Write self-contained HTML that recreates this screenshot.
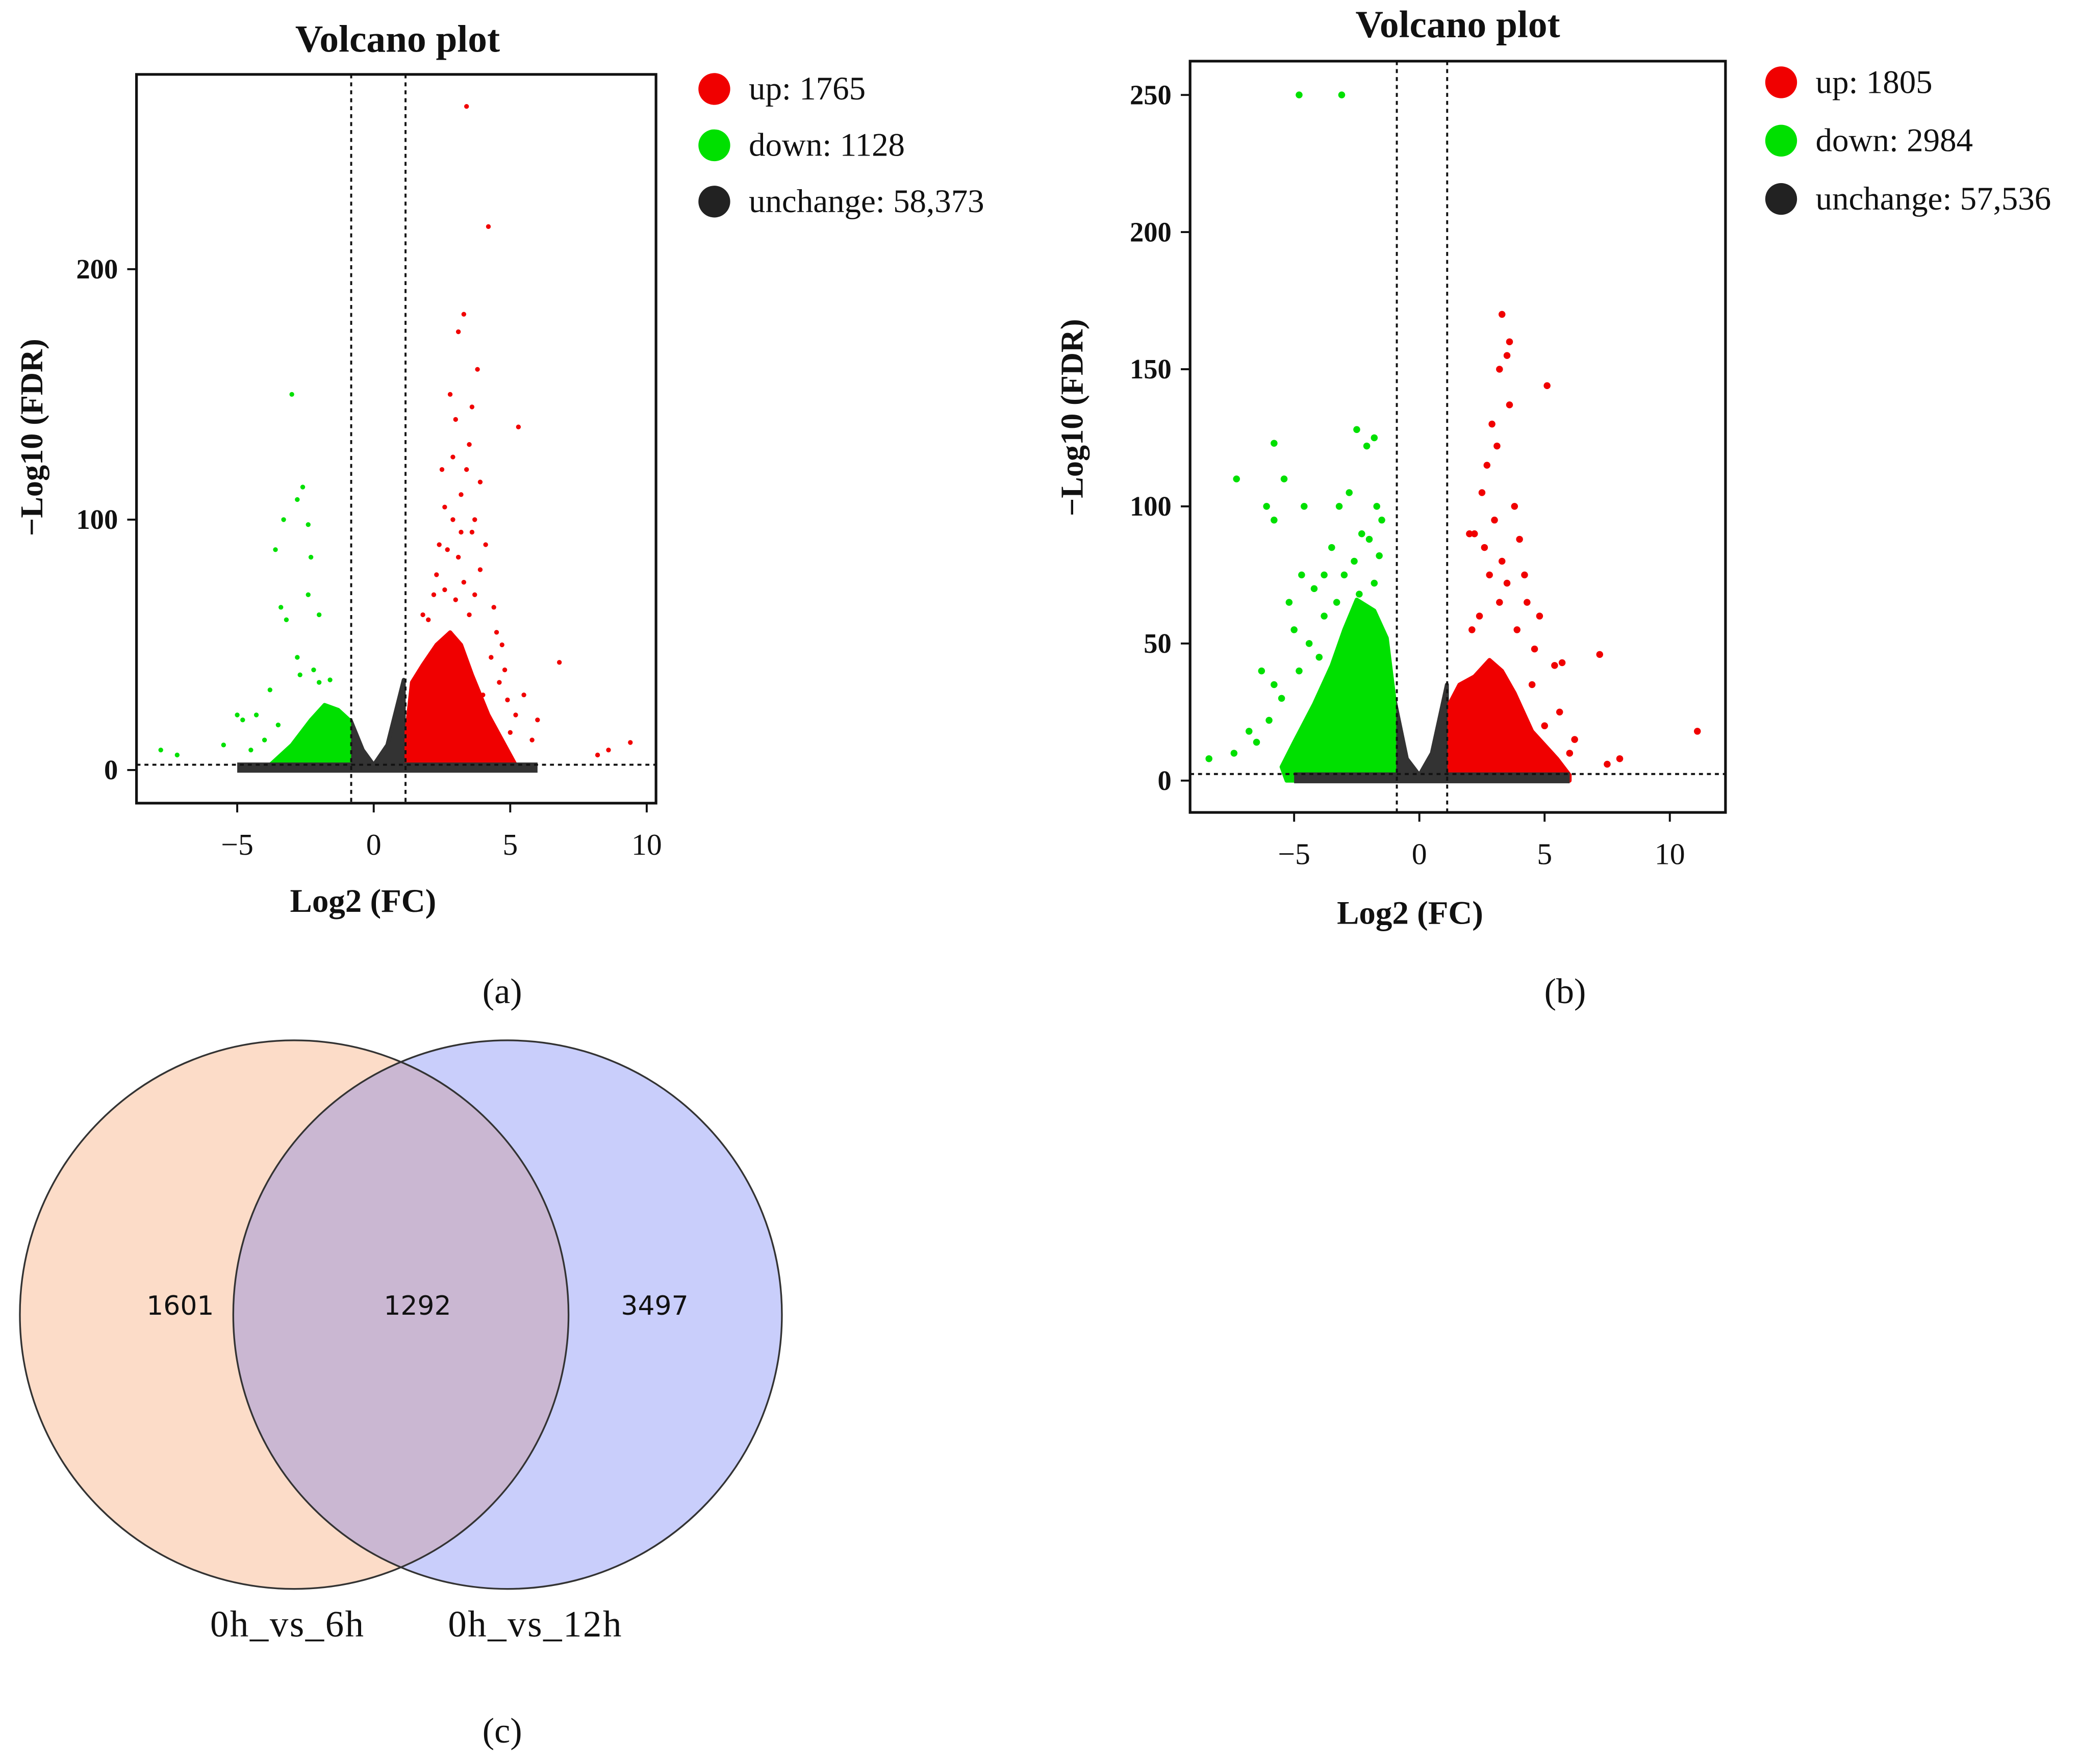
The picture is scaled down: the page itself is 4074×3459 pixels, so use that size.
<!DOCTYPE html>
<html><head><meta charset="utf-8"><style>
html,body{margin:0;padding:0;background:#fff;}
svg{display:block;}
text{font-family:"Liberation Serif",serif;fill:#111;}
</style></head><body>
<svg id="fig" width="4074" height="3459" viewBox="0 0 1568 1331" xmlns="http://www.w3.org/2000/svg">
<rect width="1568" height="1331" fill="#fff"/>
<g id="pa"></g>
<g id="pb"></g>
<text x="379" y="757" font-size="27" text-anchor="middle">(a)</text>
<text x="1181" y="757" font-size="27" text-anchor="middle">(b)</text>
<text x="379" y="1315" font-size="27" text-anchor="middle">(c)</text>
<g>
<defs><clipPath id="c1"><circle cx="222" cy="992" r="207"/></clipPath></defs>
<circle cx="222" cy="992" r="207" fill="#fcdcc8"/>
<circle cx="383" cy="992" r="207" fill="#c9cefb"/>
<circle cx="383" cy="992" r="207" fill="#cab7d2" clip-path="url(#c1)"/>
<circle cx="222" cy="992" r="207" fill="none" stroke="#333" stroke-width="1.3"/>
<circle cx="383" cy="992" r="207" fill="none" stroke="#333" stroke-width="1.3"/>
<text x="136" y="992" font-size="20" text-anchor="middle" style="font-family:'DejaVu Sans',sans-serif">1601</text>
<text x="315" y="992" font-size="20" text-anchor="middle" style="font-family:'DejaVu Sans',sans-serif">1292</text>
<text x="494" y="992" font-size="20" text-anchor="middle" style="font-family:'DejaVu Sans',sans-serif">3497</text>
<text x="217" y="1235" font-size="28" text-anchor="middle" letter-spacing="1" fill="#333">0h_vs_6h</text>
<text x="404" y="1235" font-size="28" text-anchor="middle" letter-spacing="1" fill="#333">0h_vs_12h</text>
</g>
</svg>
<script>
// Panel A data
const aXTicks=[-5,0,5,10];
const aYTicks=[0,100,200];
const aLegend=["up: 1765","down: 1128","unchange: 58,373"];
const aUp=[[3.4,265],[4.2,217],[3.3,182],[3.1,175],[3.8,160],[5.3,137],[2.8,150],[3,140],[3.5,130],[2.5,120],[3.2,110],[2.9,100],[3.6,95],[4.1,90],[2.7,88],[3.9,80],[3.3,75],[2.2,70],[4.4,65],[3,68],[4.7,50],[6.8,43],[5.5,30],[6,20],[8.6,8],[9.4,11],[8.2,6],[5,15],[4,30],[3.7,100],[2.4,90],[4.5,55],[3.4,120],[2.6,105],[3.9,115],[2,60],[1.8,62],[4.8,40],[5.8,12],[3.1,85],[2.3,78],[3.7,70],[4.3,45],[4.9,28],[5.2,22],[3.5,62],[2.6,72],[4.6,35],[3.2,95],[2.9,125],[3.6,145]];
const aDown=[[-3,150],[-2.6,113],[-2.8,108],[-3.3,100],[-2.4,98],[-3.6,88],[-2.3,85],[-2.4,70],[-3.4,65],[-3.2,60],[-2,62],[-2.8,45],[-3.8,32],[-4.3,22],[-4.8,20],[-5,22],[-4,12],[-7.8,8],[-7.2,6],[-5.5,10],[-2.2,40],[-2.7,38],[-1.6,36],[-3.5,18],[-4.5,8],[-2,35]];
const aUpCloud=[[1.2,0],[1.2,15],[1.4,35],[1.8,42],[2.3,50],[2.8,55],[3.2,50],[3.6,38],[4.2,22],[4.8,10],[5.2,2],[5,0]];
const aDownCloud=[[-0.9,0],[-0.9,20],[-1.3,24],[-1.8,26],[-2.3,20],[-3,10],[-3.8,2],[-3.5,0]];
const aNoCloud=[[-0.85,0],[-0.85,20],[-0.4,8],[0,2],[0.5,10],[1.1,36],[1.1,0]];
// Panel B data
const bXTicks=[-5,0,5,10];
const bYTicks=[0,50,100,150,200,250];
const bLegend=["up: 1805","down: 2984","unchange: 57,536"];
const bUp=[[3.3,170],[3.6,160],[3.5,155],[3.2,150],[5.1,144],[3.6,137],[2.9,130],[3.1,122],[2.7,115],[2.5,105],[3.8,100],[4,88],[2.2,90],[3.3,80],[3.5,72],[4.3,65],[4.8,60],[2.8,75],[7.2,46],[5.7,43],[5.4,42],[11.1,18],[8,8],[7.5,6],[6,10],[4.5,35],[5,20],[2,90],[3,95],[4.2,75],[2.4,60],[3.9,55],[2.1,55],[4.6,48],[3.2,65],[2.6,85],[5.6,25],[6.2,15]];
const bDown=[[-4.8,250],[-3.1,250],[-2.5,128],[-1.8,125],[-2.1,122],[-5.8,123],[-7.3,110],[-5.4,110],[-6.1,100],[-5.8,95],[-4.6,100],[-3.2,100],[-1.7,100],[-2.3,90],[-4.7,75],[-4.2,70],[-5.2,65],[-5,55],[-3.8,60],[-6.3,40],[-5.8,35],[-6.8,18],[-7.4,10],[-8.4,8],[-4,45],[-3.5,85],[-2.8,105],[-1.5,95],[-2,88],[-1.6,82],[-2.6,80],[-3,75],[-1.8,72],[-2.4,68],[-3.3,65],[-4.4,50],[-5.5,30],[-6,22],[-6.5,14],[-4.8,40],[-3.8,75]];
const bUpCloud=[[1.2,0],[1.2,28],[1.6,35],[2.2,38],[2.8,44],[3.3,40],[3.8,32],[4.5,18],[5.5,8],[6,2],[6,0]];
const bDownCloud=[[-1,0],[-1,30],[-1.3,52],[-1.8,62],[-2.5,66],[-3,55],[-3.5,42],[-4.2,28],[-5,14],[-5.5,5],[-5.3,0]];
const bNoCloud=[[-1,0],[-1,30],[-0.5,8],[0,2],[0.5,10],[1.1,35],[1.1,0]];

const NS="http://www.w3.org/2000/svg";
function mk(parent,tag,attrs){const e=document.createElementNS(NS,tag);for(const k in attrs)e.setAttribute(k,attrs[k]);parent.appendChild(e);return e;}

function panel(g,cfg){
  const sx=v=>cfg.x0+v*cfg.kx, sy=v=>cfg.y0-v*cfg.ky;
  const box=mk(g,'rect',{x:cfg.L,y:cfg.T,width:cfg.R-cfg.L,height:cfg.B-cfg.T,fill:'none',stroke:'#111','stroke-width':2});
  
  
  const clouds=[[cfg.noC,'#333'],[cfg.downC,'#00e000'],[cfg.upC,'#f00000']];
  clouds.forEach(([pts,c])=>{const p=mk(g,'polygon',{points:pts.map(d=>sx(d[0])+','+sy(d[1])).join(' '),fill:c,stroke:c,'stroke-width':3,'stroke-linejoin':'round'});
    
    });
  const band=mk(g,'rect',{x:sx(-5),y:sy(3),width:sx(6)-sx(-5),height:sy(0)-sy(3)+2,fill:'#333'});
  
  
  [[cfg.up,'#f00000'],[cfg.down,'#00e000']].forEach(([pts,c])=>pts.forEach(d=>{const ci=mk(g,'circle',{cx:sx(d[0]),cy:sy(d[1]),r:cfg.r,fill:c});
    
    }));
  [cfg.dl,cfg.dr].forEach(x=>{const l=mk(g,'line',{x1:x,x2:x,y1:cfg.T,y2:cfg.B,stroke:'#111','stroke-width':1.5,'stroke-dasharray':'3,3'});
    
    });
  const h=mk(g,'line',{x1:cfg.L,x2:cfg.R,y1:cfg.dh,y2:cfg.dh,stroke:'#111','stroke-width':1.5,'stroke-dasharray':'3,3'});
  
  
  cfg.xt.forEach(v=>{mk(g,'line',{x1:sx(v),x2:sx(v),y1:cfg.B,y2:cfg.B+7,stroke:'#111','stroke-width':1.5});
    const t=mk(g,'text',{x:sx(v),y:cfg.B+39,'font-size':23,'text-anchor':'middle'});t.textContent=(v<0?'\u2212'+(-v):v);
    
    });
  cfg.yt.forEach(v=>{mk(g,'line',{x1:cfg.L-7,x2:cfg.L,y1:sy(v),y2:sy(v),stroke:'#111','stroke-width':1.5});
    const t=mk(g,'text',{x:cfg.L-14,y:sy(v)+7,'font-size':21,'text-anchor':'end','font-weight':'bold'});t.textContent=v;
    
    });
  const ti=mk(g,'text',{x:cfg.tx,y:cfg.ty,'font-size':29,'font-weight':'bold','text-anchor':'middle'});ti.textContent='Volcano plot';
  
  
  const xl=mk(g,'text',{x:cfg.xlx,y:cfg.xly,'font-size':25,'font-weight':'bold','text-anchor':'middle'});xl.textContent='Log2 (FC)';
  
  
  const yl=mk(g,'text',{x:0,y:0,'font-size':24,'font-weight':'bold','text-anchor':'middle',transform:`translate(${cfg.ylx},${cfg.yly}) rotate(-90)`});yl.textContent='\u2212Log10 (FDR)';
  
  
  const cols=['#f00000','#00e000','#222'];
  cfg.leg.forEach((s,i)=>{const y=cfg.legY+i*cfg.legDy;
    const e=mk(g,'g',{});
    
    
    mk(e,'circle',{cx:cfg.legX,cy:y,r:12,fill:cols[i]});
    const t=mk(e,'text',{x:cfg.legX+26,y:y+8,'font-size':25});t.textContent=s;});
}
panel(document.getElementById('pa'),{L:103,R:495,T:56,B:606,x0:282,kx:20.6,y0:581,ky:1.89,xt:aXTicks,yt:aYTicks,up:aUp,down:aDown,upC:aUpCloud,downC:aDownCloud,noC:aNoCloud,r:1.8,dl:265,dr:306,dh:577,tx:300,ty:39,xlx:274,xly:688,ylx:32,yly:330,leg:aLegend,legX:539,legY:67,legDy:42.5});
panel(document.getElementById('pb'),{L:898,R:1302,T:46,B:613,x0:1071,kx:18.9,y0:589,ky:2.07,xt:bXTicks,yt:bYTicks,up:bUp,down:bDown,upC:bUpCloud,downC:bDownCloud,noC:bNoCloud,r:2.6,dl:1054,dr:1092,dh:584,tx:1100,ty:28,xlx:1064,xly:697,ylx:817,yly:315,leg:bLegend,legX:1344,legY:62,legDy:44});
</script>
</body></html>
